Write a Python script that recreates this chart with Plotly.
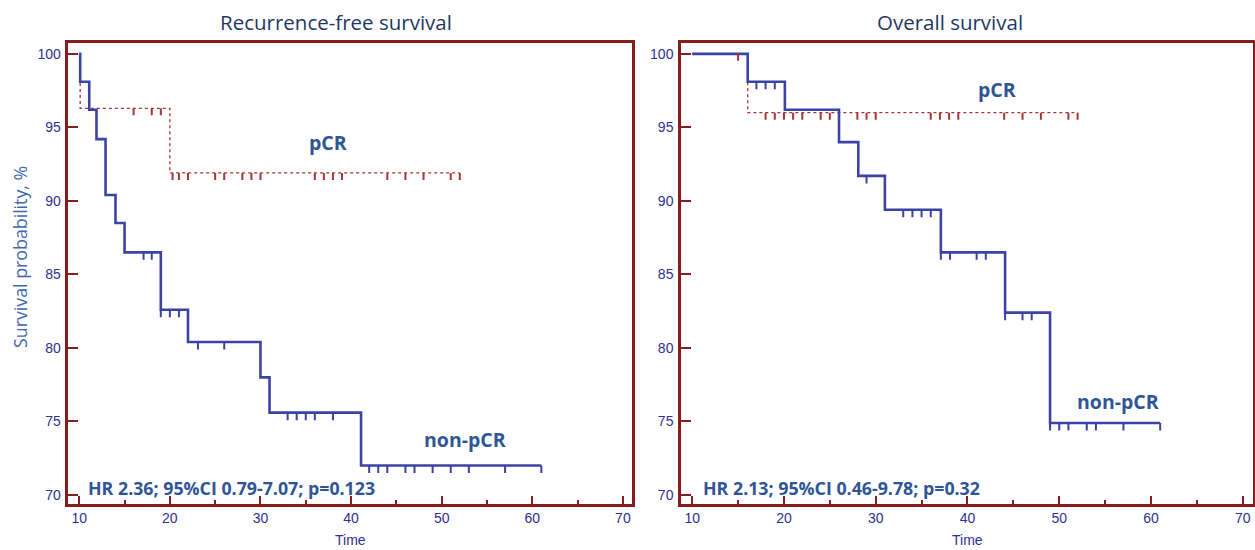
import plotly.graph_objects as go

# ---------------- data ----------------
# Recurrence-free survival (left panel)
rfs_non_t = [10, 10.1, 11.1, 11.9, 12.9, 14.0, 15.0, 19.0, 22.0, 30.0, 31.0, 41.1, 61]
rfs_non_s = [100, 98.1, 96.2, 94.2, 90.4, 88.5, 86.5, 82.6, 80.4, 78.0, 75.6, 72.0, 72.0]
rfs_non_cens = [17.1, 18.0, 19.0, 20.0, 21.0, 23.1, 26.0, 33.0, 34.0, 35.0, 36.0, 38.0,
                42.0, 43.0, 44.0, 46.0, 47.0, 49.0, 51.0, 53.0, 57.0, 61.0]
rfs_pcr_t = [10, 10.1, 20.0, 52]
rfs_pcr_s = [100, 96.3, 91.9, 91.9]
rfs_pcr_cens = [16.0, 18.0, 19.0, 20.3, 21.0, 22.0, 25.0, 26.0, 28.0, 29.0, 30.0, 36.0,
                37.0, 38.0, 39.0, 44.0, 46.0, 48.0, 51.0, 52.0]

# Overall survival (right panel)
os_non_t = [10, 16.05, 20.1, 26.0, 28.1, 31.0, 37.1, 44.1, 49.0, 61]
os_non_s = [100, 98.1, 96.2, 94.0, 91.7, 89.4, 86.5, 82.4, 74.9, 74.9]
os_non_cens = [17.0, 18.0, 19.0, 29.0, 33.0, 34.0, 35.0, 36.0, 37.1, 38.1, 41.0, 42.0,
               44.1, 46.0, 47.0, 49.0, 50.0, 51.0, 53.0, 54.0, 57.0, 61.0]
os_pcr_t = [10, 16.05, 52]
os_pcr_s = [100, 96.0, 96.0]
os_pcr_cens = [15.0, 18.0, 19.0, 20.0, 21.0, 22.0, 24.0, 25.0, 28.0, 29.0, 30.0, 36.0,
               37.0, 38.0, 39.0, 44.0, 46.0, 48.0, 51.0, 52.0]

titles = ["Recurrence-free survival", "Overall survival"]
stats = ["HR 2.36; 95%CI 0.79-7.07; p=0.123", "HR 2.13; 95%CI 0.46-9.78; p=0.32"]
group_labels = ["pCR", "non-pCR"]
x_ticks = [10, 20, 30, 40, 50, 60, 70]
y_ticks = [70, 75, 80, 85, 90, 95, 100]

# label anchor positions (data units)
pcr_label_pos = [(37.4, 94.0), (43.2, 97.55)]
non_label_pos = [(52.6, 73.8), (56.4, 76.35)]
stat_pos = [(10.7, 70.5), (11.0, 70.45)]

# ---------------- style ----------------
BLUE = "#3b43a4"
RED = "#a83434"
FRAME = "#861d1f"
TXT = "#2f5597"
TICKTXT = "#2e3192"
TITLE = "#1f3864"
YTITLE = "#4068b2"
TFONT = "Open Sans"


def level_at(t, times, surv):
    lvl = surv[0]
    for ti, si in zip(times, surv):
        if ti <= t + 1e-9:
            lvl = si
    return lvl


fig = go.Figure()
shapes = []
annotations = []

panels = [
    (rfs_non_t, rfs_non_s, rfs_non_cens, rfs_pcr_t, rfs_pcr_s, rfs_pcr_cens),
    (os_non_t, os_non_s, os_non_cens, os_pcr_t, os_pcr_s, os_pcr_cens),
]

for i, (nt, ns, nc, pt, ps, pc) in enumerate(panels):
    xr = "x" if i == 0 else "x2"
    yr = "y" if i == 0 else "y2"
    fig.add_trace(go.Scatter(x=pt, y=ps, mode="lines", line_shape="hv",
                             line=dict(color=RED, width=1.3, dash="dot"),
                             xaxis=xr, yaxis=yr, showlegend=False, hoverinfo="skip"))
    fig.add_trace(go.Scatter(x=nt, y=ns, mode="lines", line_shape="hv",
                             line=dict(color=BLUE, width=2.6),
                             xaxis=xr, yaxis=yr, showlegend=False, hoverinfo="skip"))
    for t in pc:
        lv = level_at(t, pt, ps)
        shapes.append(dict(type="line", xref=xr, yref=yr, x0=t, x1=t,
                           ysizemode="pixel", yanchor=lv, y0=0, y1=-7,
                           line=dict(color=RED, width=2), layer="above"))
    for t in nc:
        lv = level_at(t, nt, ns)
        shapes.append(dict(type="line", xref=xr, yref=yr, x0=t, x1=t,
                           ysizemode="pixel", yanchor=lv, y0=0, y1=-7.5,
                           line=dict(color=BLUE, width=2), layer="above"))
    annotations.append(dict(x=pcr_label_pos[i][0], y=pcr_label_pos[i][1], xref=xr, yref=yr,
                            text="<b>" + group_labels[0] + "</b>", showarrow=False,
                            xanchor="center", yanchor="middle",
                            font=dict(family=TFONT, size=19.5, color=TXT)))
    annotations.append(dict(x=non_label_pos[i][0], y=non_label_pos[i][1], xref=xr, yref=yr,
                            text="<b>" + group_labels[1] + "</b>", showarrow=False,
                            xanchor="center", yanchor="middle",
                            font=dict(family=TFONT, size=19.5, color=TXT)))
    annotations.append(dict(x=stat_pos[i][0], y=stat_pos[i][1], xref=xr, yref=yr,
                            text="<b>" + stats[i] + "</b>", showarrow=False,
                            xanchor="left", yanchor="middle",
                            font=dict(family=TFONT, size=17.8, color=TXT)))

W, H = 1255, 550
# titles
for cx, txt in ((335.5 / W, titles[0]), (950.3 / W, titles[1])):
    annotations.append(dict(x=cx, y=1 - 22 / H, xref="paper", yref="paper", text=txt,
                            xanchor="center", yanchor="middle", showarrow=False,
                            font=dict(family=TFONT, size=20.5, color=TITLE)))
# axis titles
for cx in (350.3 / W, 967.2 / W):
    annotations.append(dict(x=cx, y=1 - 540 / H, xref="paper", yref="paper", text="Time",
                            xanchor="center", yanchor="middle", showarrow=False,
                            font=dict(family="Liberation Sans", size=14, color=TICKTXT)))
annotations.append(dict(x=20 / W, y=1 - 257 / H, xref="paper", yref="paper",
                        text="Survival probability, %", textangle=-90, showarrow=False,
                        xanchor="center", yanchor="middle",
                        font=dict(family=TFONT, size=17.8, color=YTITLE)))

xdom = [[68.3 / W, 632.3 / W], [681 / W, 1253.3 / W]]
ydom = [1 - 503.5 / H, 1 - 42.7 / H]
xranges = [[8.79, 71.04], [8.78, 71.15]]
yrange = [69.42, 100.76]

axis_common = dict(showline=True, mirror=True, linecolor=FRAME, linewidth=2.5,
                   showgrid=False, zeroline=False, automargin=False,
                   tickfont=dict(family="Liberation Sans", size=14, color=TICKTXT),
                   tickcolor=FRAME, tickwidth=2, ticks="inside", fixedrange=True)

layout = dict(width=W, height=H, margin=dict(l=0, r=0, t=0, b=0),
              paper_bgcolor="white", plot_bgcolor="white",
              shapes=shapes, annotations=annotations, showlegend=False)

for i in range(2):
    sx = "" if i == 0 else "2"
    layout["xaxis" + sx] = dict(axis_common, domain=xdom[i], range=xranges[i],
                                tickvals=x_ticks, ticklen=8,
                                minor=dict(ticks="inside", ticklen=4, dtick=5, tick0=5,
                                           tickcolor=FRAME, tickwidth=2),
                                anchor="y" + sx, ticklabelstandoff=0)
    layout["yaxis" + sx] = dict(axis_common, domain=ydom, range=yrange,
                                tickvals=y_ticks, ticklen=10,
                                anchor="x" + sx, ticklabelstandoff=2)

fig.update_layout(**layout)
fig.write_html("out.html", config={"displayModeBar": False},
               post_script="document.body.style.margin='0px';document.body.style.overflow='hidden';")
